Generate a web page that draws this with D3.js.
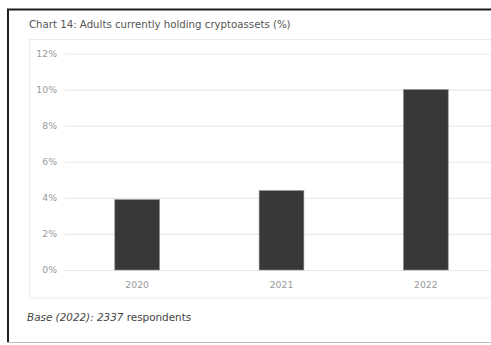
<!DOCTYPE html>
<html>
<head>
<meta charset="utf-8">
<script src="https://cdn.jsdelivr.net/npm/d3@7"></script>
<style>
  html, body { margin: 0; padding: 0; background: #fff; }
  svg { display: block; }
</style>
</head>
<body>
<svg id="chart" width="491" height="345"></svg>
<script>
// Share of adults holding cryptoassets, by survey year
const years = ["2020", "2021", "2022"];
const holdingPct = [3.9, 4.4, 10.0];
const yTicks = [0, 2, 4, 6, 8, 10, 12];

const svg = d3.select("#chart");
const W = 491, H = 345;
const font = "DejaVu Sans, Verdana, sans-serif";

// Outer frame: heavy rule on top and left, light rule at the bottom
svg.append("rect").attr("x", 0).attr("y", 0).attr("width", W).attr("height", H).attr("fill", "#fff");
svg.append("line").attr("x1", 7).attr("x2", W).attr("y1", 9.5).attr("y2", 9.5)
  .attr("stroke", "#1e1e1e").attr("stroke-width", 2);
svg.append("line").attr("x1", 8).attr("x2", 8).attr("y1", 9).attr("y2", 343)
  .attr("stroke", "#1e1e1e").attr("stroke-width", 2);
svg.append("line").attr("x1", 7).attr("x2", W).attr("y1", 342.5).attr("y2", 342.5)
  .attr("stroke", "#bdbdbd").attr("stroke-width", 1);

// Title
svg.append("text").attr("x", 29).attr("y", 27.5)
  .attr("font-family", font).attr("font-size", 10.2).attr("fill", "#555")
  .text("Chart 14: Adults currently holding cryptoassets (%)");

// Plot panel
svg.append("rect").attr("x", 29.5).attr("y", 39.5).attr("width", W).attr("height", 258.5)
  .attr("fill", "#fff").attr("stroke", "#ececec");

const margin = { left: 65, top: 53.5, bottom: 270 };
const y = d3.scaleLinear().domain([0, 12]).range([margin.bottom, margin.top]);
const x = d3.scaleBand().domain(years).range([65, 498]).paddingInner(0.69).paddingOuter(0.345);

// Gridlines and y tick labels
const yAxis = d3.axisLeft(y).tickValues(yTicks).tickFormat(d => d + "%")
  .tickSize(-(W - 65)).tickPadding(8);
const gy = svg.append("g").attr("transform", "translate(65,0)").call(yAxis);
gy.select(".domain").remove();
gy.selectAll(".tick line").attr("stroke", "#e9e9e9").attr("stroke-width", 1.2);
gy.selectAll(".tick text").attr("font-family", font).attr("font-size", 9.3).attr("fill", "#9a9a9a");

// Bars
svg.append("g").selectAll("rect").data(years).join("rect")
  .attr("x", (d) => x(d))
  .attr("y", (d, i) => y(holdingPct[i]))
  .attr("width", x.bandwidth())
  .attr("height", (d, i) => y(0) - y(holdingPct[i]))
  .attr("fill", "#383838")
  .attr("stroke", "#8a8a8a").attr("stroke-width", 0.6);

// Category axis
const xAxis = d3.axisBottom(x).tickSize(0).tickPadding(11);
const gx = svg.append("g").attr("transform", `translate(0,${margin.bottom})`).call(xAxis);
gx.select(".domain").remove();
gx.selectAll(".tick text").attr("font-family", font).attr("font-size", 9.3).attr("fill", "#9a9a9a");

// Footnote
const note = svg.append("text").attr("x", 27).attr("y", 320.5)
  .attr("font-family", font).attr("font-size", 10.4).attr("fill", "#444");
note.append("tspan").attr("font-style", "italic").text("Base (2022): 2337");
note.append("tspan").text(" respondents");
</script>
</body>
</html>
